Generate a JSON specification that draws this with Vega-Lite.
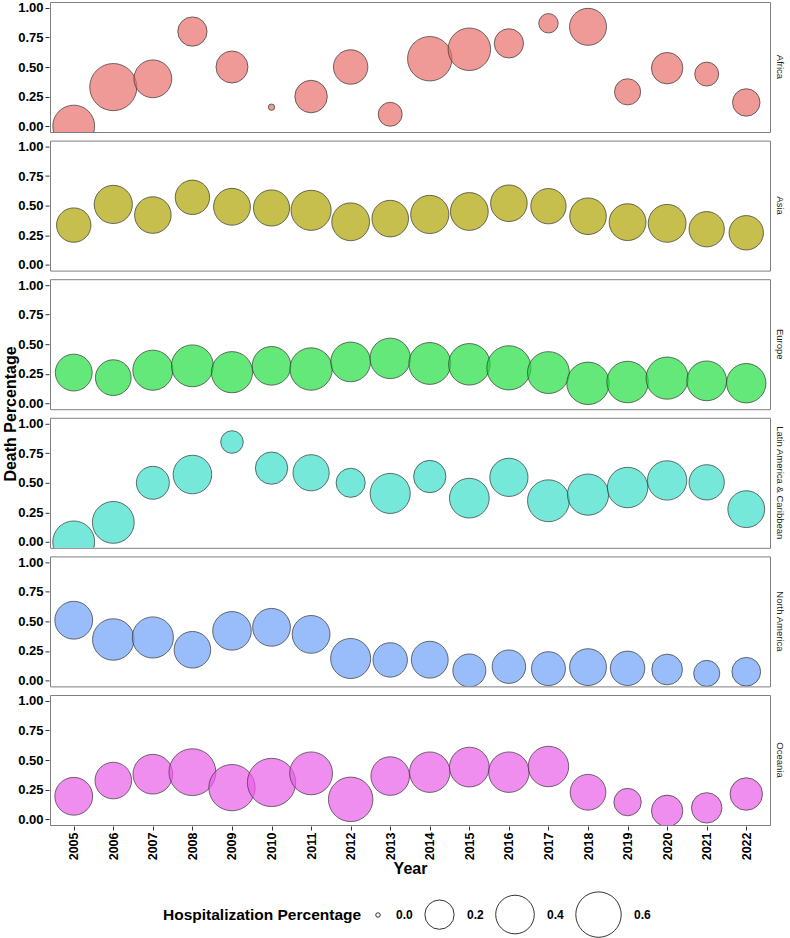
{
  "$schema": "https://vega.github.io/schema/vega-lite/v6.json",
  "padding": {"left": 2, "top": 1, "right": 2, "bottom": 0},
  "background": "white",
  "data": {"values": [
    {"Region": "Africa", "Year": 2005, "Death": 0.00, "Hosp": 0.49},
    {"Region": "Africa", "Year": 2006, "Death": 0.33, "Hosp": 0.66},
    {"Region": "Africa", "Year": 2007, "Death": 0.40, "Hosp": 0.38},
    {"Region": "Africa", "Year": 2008, "Death": 0.80, "Hosp": 0.20},
    {"Region": "Africa", "Year": 2009, "Death": 0.50, "Hosp": 0.25},
    {"Region": "Africa", "Year": 2010, "Death": 0.16, "Hosp": 0.002},
    {"Region": "Africa", "Year": 2011, "Death": 0.25, "Hosp": 0.26},
    {"Region": "Africa", "Year": 2012, "Death": 0.50, "Hosp": 0.30},
    {"Region": "Africa", "Year": 2013, "Death": 0.10, "Hosp": 0.12},
    {"Region": "Africa", "Year": 2014, "Death": 0.57, "Hosp": 0.57},
    {"Region": "Africa", "Year": 2015, "Death": 0.65, "Hosp": 0.51},
    {"Region": "Africa", "Year": 2016, "Death": 0.70, "Hosp": 0.20},
    {"Region": "Africa", "Year": 2017, "Death": 0.87, "Hosp": 0.07},
    {"Region": "Africa", "Year": 2018, "Death": 0.84, "Hosp": 0.36},
    {"Region": "Africa", "Year": 2019, "Death": 0.29, "Hosp": 0.15},
    {"Region": "Africa", "Year": 2020, "Death": 0.49, "Hosp": 0.24},
    {"Region": "Africa", "Year": 2021, "Death": 0.44, "Hosp": 0.12},
    {"Region": "Africa", "Year": 2022, "Death": 0.20, "Hosp": 0.17},
    {"Region": "Asia", "Year": 2005, "Death": 0.335, "Hosp": 0.30},
    {"Region": "Asia", "Year": 2006, "Death": 0.51, "Hosp": 0.39},
    {"Region": "Asia", "Year": 2007, "Death": 0.42, "Hosp": 0.35},
    {"Region": "Asia", "Year": 2008, "Death": 0.57, "Hosp": 0.30},
    {"Region": "Asia", "Year": 2009, "Death": 0.49, "Hosp": 0.356},
    {"Region": "Asia", "Year": 2010, "Death": 0.48, "Hosp": 0.34},
    {"Region": "Asia", "Year": 2011, "Death": 0.46, "Hosp": 0.44},
    {"Region": "Asia", "Year": 2012, "Death": 0.363, "Hosp": 0.38},
    {"Region": "Asia", "Year": 2013, "Death": 0.39, "Hosp": 0.35},
    {"Region": "Asia", "Year": 2014, "Death": 0.425, "Hosp": 0.39},
    {"Region": "Asia", "Year": 2015, "Death": 0.45, "Hosp": 0.38},
    {"Region": "Asia", "Year": 2016, "Death": 0.52, "Hosp": 0.35},
    {"Region": "Asia", "Year": 2017, "Death": 0.495, "Hosp": 0.32},
    {"Region": "Asia", "Year": 2018, "Death": 0.41, "Hosp": 0.35},
    {"Region": "Asia", "Year": 2019, "Death": 0.36, "Hosp": 0.356},
    {"Region": "Asia", "Year": 2020, "Death": 0.35, "Hosp": 0.38},
    {"Region": "Asia", "Year": 2021, "Death": 0.30, "Hosp": 0.32},
    {"Region": "Asia", "Year": 2022, "Death": 0.27, "Hosp": 0.30},
    {"Region": "Europe", "Year": 2005, "Death": 0.26, "Hosp": 0.356},
    {"Region": "Europe", "Year": 2006, "Death": 0.217, "Hosp": 0.33},
    {"Region": "Europe", "Year": 2007, "Death": 0.28, "Hosp": 0.44},
    {"Region": "Europe", "Year": 2008, "Death": 0.317, "Hosp": 0.49},
    {"Region": "Europe", "Year": 2009, "Death": 0.263, "Hosp": 0.47},
    {"Region": "Europe", "Year": 2010, "Death": 0.317, "Hosp": 0.40},
    {"Region": "Europe", "Year": 2011, "Death": 0.29, "Hosp": 0.506},
    {"Region": "Europe", "Year": 2012, "Death": 0.35, "Hosp": 0.43},
    {"Region": "Europe", "Year": 2013, "Death": 0.38, "Hosp": 0.45},
    {"Region": "Europe", "Year": 2014, "Death": 0.337, "Hosp": 0.49},
    {"Region": "Europe", "Year": 2015, "Death": 0.33, "Hosp": 0.48},
    {"Region": "Europe", "Year": 2016, "Death": 0.30, "Hosp": 0.56},
    {"Region": "Europe", "Year": 2017, "Death": 0.26, "Hosp": 0.49},
    {"Region": "Europe", "Year": 2018, "Death": 0.169, "Hosp": 0.506},
    {"Region": "Europe", "Year": 2019, "Death": 0.18, "Hosp": 0.48},
    {"Region": "Europe", "Year": 2020, "Death": 0.213, "Hosp": 0.50},
    {"Region": "Europe", "Year": 2021, "Death": 0.19, "Hosp": 0.43},
    {"Region": "Europe", "Year": 2022, "Death": 0.17, "Hosp": 0.42},
    {"Region": "Latin America & Caribbean", "Year": 2005, "Death": 0.00, "Hosp": 0.49},
    {"Region": "Latin America & Caribbean", "Year": 2006, "Death": 0.165, "Hosp": 0.49},
    {"Region": "Latin America & Caribbean", "Year": 2007, "Death": 0.50, "Hosp": 0.27},
    {"Region": "Latin America & Caribbean", "Year": 2008, "Death": 0.57, "Hosp": 0.40},
    {"Region": "Latin America & Caribbean", "Year": 2009, "Death": 0.845, "Hosp": 0.103},
    {"Region": "Latin America & Caribbean", "Year": 2010, "Death": 0.624, "Hosp": 0.257},
    {"Region": "Latin America & Caribbean", "Year": 2011, "Death": 0.585, "Hosp": 0.34},
    {"Region": "Latin America & Caribbean", "Year": 2012, "Death": 0.50, "Hosp": 0.197},
    {"Region": "Latin America & Caribbean", "Year": 2013, "Death": 0.41, "Hosp": 0.44},
    {"Region": "Latin America & Caribbean", "Year": 2014, "Death": 0.553, "Hosp": 0.257},
    {"Region": "Latin America & Caribbean", "Year": 2015, "Death": 0.37, "Hosp": 0.43},
    {"Region": "Latin America & Caribbean", "Year": 2016, "Death": 0.546, "Hosp": 0.39},
    {"Region": "Latin America & Caribbean", "Year": 2017, "Death": 0.348, "Hosp": 0.49},
    {"Region": "Latin America & Caribbean", "Year": 2018, "Death": 0.40, "Hosp": 0.47},
    {"Region": "Latin America & Caribbean", "Year": 2019, "Death": 0.46, "Hosp": 0.45},
    {"Region": "Latin America & Caribbean", "Year": 2020, "Death": 0.52, "Hosp": 0.42},
    {"Region": "Latin America & Caribbean", "Year": 2021, "Death": 0.504, "Hosp": 0.32},
    {"Region": "Latin America & Caribbean", "Year": 2022, "Death": 0.277, "Hosp": 0.356},
    {"Region": "North America", "Year": 2005, "Death": 0.51, "Hosp": 0.38},
    {"Region": "North America", "Year": 2006, "Death": 0.347, "Hosp": 0.48},
    {"Region": "North America", "Year": 2007, "Death": 0.364, "Hosp": 0.47},
    {"Region": "North America", "Year": 2008, "Death": 0.26, "Hosp": 0.35},
    {"Region": "North America", "Year": 2009, "Death": 0.42, "Hosp": 0.40},
    {"Region": "North America", "Year": 2010, "Death": 0.45, "Hosp": 0.38},
    {"Region": "North America", "Year": 2011, "Death": 0.39, "Hosp": 0.38},
    {"Region": "North America", "Year": 2012, "Death": 0.186, "Hosp": 0.44},
    {"Region": "North America", "Year": 2013, "Death": 0.174, "Hosp": 0.30},
    {"Region": "North America", "Year": 2014, "Death": 0.176, "Hosp": 0.356},
    {"Region": "North America", "Year": 2015, "Death": 0.085, "Hosp": 0.27},
    {"Region": "North America", "Year": 2016, "Death": 0.117, "Hosp": 0.28},
    {"Region": "North America", "Year": 2017, "Death": 0.10, "Hosp": 0.29},
    {"Region": "North America", "Year": 2018, "Death": 0.113, "Hosp": 0.356},
    {"Region": "North America", "Year": 2019, "Death": 0.103, "Hosp": 0.30},
    {"Region": "North America", "Year": 2020, "Death": 0.093, "Hosp": 0.225},
    {"Region": "North America", "Year": 2021, "Death": 0.06, "Hosp": 0.149},
    {"Region": "North America", "Year": 2022, "Death": 0.074, "Hosp": 0.19},
    {"Region": "Oceania", "Year": 2005, "Death": 0.193, "Hosp": 0.38},
    {"Region": "Oceania", "Year": 2006, "Death": 0.326, "Hosp": 0.35},
    {"Region": "Oceania", "Year": 2007, "Death": 0.38, "Hosp": 0.43},
    {"Region": "Oceania", "Year": 2008, "Death": 0.397, "Hosp": 0.65},
    {"Region": "Oceania", "Year": 2009, "Death": 0.266, "Hosp": 0.63},
    {"Region": "Oceania", "Year": 2010, "Death": 0.31, "Hosp": 0.70},
    {"Region": "Oceania", "Year": 2011, "Death": 0.387, "Hosp": 0.52},
    {"Region": "Oceania", "Year": 2012, "Death": 0.167, "Hosp": 0.57},
    {"Region": "Oceania", "Year": 2013, "Death": 0.364, "Hosp": 0.40},
    {"Region": "Oceania", "Year": 2014, "Death": 0.397, "Hosp": 0.45},
    {"Region": "Oceania", "Year": 2015, "Death": 0.44, "Hosp": 0.43},
    {"Region": "Oceania", "Year": 2016, "Death": 0.397, "Hosp": 0.45},
    {"Region": "Oceania", "Year": 2017, "Death": 0.445, "Hosp": 0.45},
    {"Region": "Oceania", "Year": 2018, "Death": 0.227, "Hosp": 0.33},
    {"Region": "Oceania", "Year": 2019, "Death": 0.144, "Hosp": 0.169},
    {"Region": "Oceania", "Year": 2020, "Death": 0.07, "Hosp": 0.238},
    {"Region": "Oceania", "Year": 2021, "Death": 0.095, "Hosp": 0.22},
    {"Region": "Oceania", "Year": 2022, "Death": 0.212, "Hosp": 0.26}
  ]},
  "facet": {
    "row": {
      "field": "Region", "type": "nominal",
      "header": {"title": "Death Percentage", "titleOrient": "left", "titleFontSize": 16, "titleFontWeight": "bold", "titleColor": "black", "titlePadding": -12, "labelOrient": "right", "labelAngle": 90, "labelFontSize": 9.5, "labelColor": "#1a1a1a", "labelPadding": 4, "labelFont": "Liberation Sans"}
    }
  },
  "spacing": {"row": 6.6},
  "spec": {
    "width": 720,
    "height": 130,
    "mark": {"type": "circle", "stroke": "#333333", "strokeWidth": 0.7, "opacity": 1, "fillOpacity": 0.7, "strokeOpacity": 1, "clip": true},
    "encoding": {
      "x": {
        "field": "Year", "type": "ordinal",
        "scale": {"type": "point", "padding": 0.6},
        "axis": {"title": "Year", "labelAngle": -90, "labelFontSize": 12.5, "labelFontWeight": "bold", "labelColor": "black", "tickColor": "#333333", "tickSize": 4, "domain": false, "grid": false, "labelPadding": 2, "titleFontSize": 16, "titleFontWeight": "bold", "titleColor": "black", "titlePadding": 1}
      },
      "y": {
        "field": "Death", "type": "quantitative",
        "scale": {"domain": [-0.05, 1.05], "nice": false, "zero": false},
        "axis": {"title": null, "values": [0, 0.25, 0.5, 0.75, 1], "format": ".2f", "labelFontSize": 13, "labelFontWeight": "bold", "labelColor": "black", "tickColor": "#333333", "tickSize": 4, "domain": false, "grid": false, "labelPadding": 2}
      },
      "size": {
        "field": "Hosp", "type": "quantitative",
        "scale": {"type": "pow", "exponent": 0.81, "domain": [0, 0.7], "range": [20, 2333]},
        "legend": {"title": "Hospitalization Percentage", "orient": "none", "legendX": 113, "legendY": 889, "direction": "horizontal", "titleOrient": "left", "titleLimit": 400, "values": [0, 0.2, 0.4, 0.6], "format": ".1f", "symbolType": "circle", "symbolFillColor": "white", "symbolStrokeColor": "black", "symbolStrokeWidth": 0.8, "symbolOpacity": 1, "titleFontSize": 15.5, "titleFontWeight": "bold", "titleColor": "black", "titleBaseline": "middle", "titlePadding": 10, "labelFontSize": 12, "labelFontWeight": "bold", "labelColor": "black", "labelOffset": 12, "columnPadding": 10}
      },
      "color": {
        "field": "Region", "type": "nominal",
        "scale": {"domain": ["Africa", "Asia", "Europe", "Latin America & Caribbean", "North America", "Oceania"], "range": ["#E86F69", "#AEA202", "#24DE41", "#3BDECA", "#6DA1F8", "#EA5EEA"]},
        "legend": null
      }
    }
  },
  "config": {
    "font": "Liberation Sans",
    "view": {"stroke": "#7f7f7f", "strokeWidth": 1}
  }
}
